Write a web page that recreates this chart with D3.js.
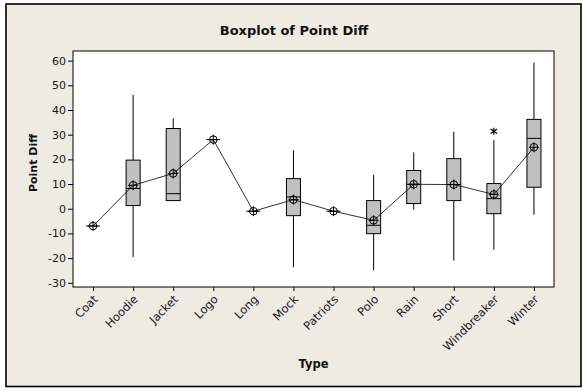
<!DOCTYPE html>
<html>
<head>
<meta charset="utf-8">
<script src="https://cdn.jsdelivr.net/npm/d3@7"></script>
<style>
  html, body { margin: 0; padding: 0; background: #ffffff; }
  svg { display: block; }
</style>
</head>
<body>
<script>
// ---- Data ----
const categories = ["Coat","Hoodie","Jacket","Logo","Long","Mock","Patriots","Polo","Rain","Short","Windbreaker","Winter"];
const means       = [-7,   9.5, 14.3, 28, -1,   3.7, -1,  -4.7,  9.9,  9.8,   5.8, 24.9];
const whiskerLow  = [-7, -19.6,  3.3, 28, -1, -23.7, -1, -25,   -0.4, -21,  -16.6, -2.4];
const q1          = [-7,   1.3,  3.3, 28, -1,  -2.8, -1, -10.1,  2.1,  3.3,  -2,    8.7];
const medians     = [-7,   8.2,  6.1, 28, -1,   4.8, -1,  -6.7,  9.9,  9.8,   4.1, 28.5];
const q3          = [-7,  19.7, 32.5, 28, -1,  12.2, -1,   3.3, 15.5, 20.3,  10.2, 36.2];
const whiskerHigh = [-7,  46.1, 36.6, 28, -1,  23.7, -1,  13.8, 22.8, 31.2,  27.8, 59.2];
const outlierCats = ["Windbreaker"];
const outlierVals = [31.4];
const yTicks = [-30,-20,-10,0,10,20,30,40,50,60];
const titleText = "Boxplot of Point Diff";
const xTitle = "Type";
const yTitle = "Point Diff";

// ---- Layout ----
const W = 587, H = 392;
const plot = { left: 73, right: 554, top: 51, bottom: 287 };
const font = "'DejaVu Sans', Verdana, sans-serif";

const svg = d3.select("body").append("svg").attr("width", W).attr("height", H);

svg.append("rect").attr("x", 6).attr("y", 4).attr("width", 575).attr("height", 382.5)
  .attr("fill", "#eeebe2").attr("stroke", "#000").attr("stroke-width", 1.6);

const x = d3.scalePoint().domain(categories).range([plot.left, plot.right]).padding(0.5);
const y = d3.scaleLinear().domain([-31.7, 63.9]).range([plot.bottom, plot.top]);

// plot area
svg.append("rect").attr("x", plot.left).attr("y", plot.top)
  .attr("width", plot.right - plot.left).attr("height", plot.bottom - plot.top)
  .attr("fill", "#ffffff").attr("stroke", "#000").attr("stroke-width", 1);

// axes
const yAxis = svg.append("g").attr("transform", `translate(${plot.left},0)`)
  .call(d3.axisLeft(y).tickValues(yTicks).tickSize(5).tickPadding(2).tickFormat(d => String(d)));
yAxis.select(".domain").remove();
yAxis.selectAll("text").attr("font-family", font).attr("font-size", 11).attr("fill", "#151525");

const xAxis = svg.append("g").attr("transform", `translate(0,${plot.bottom})`)
  .call(d3.axisBottom(x).tickSize(4).tickFormat(d => d));
xAxis.select(".domain").remove();
xAxis.selectAll("text")
  .attr("font-family", font).attr("font-size", 11.5).attr("fill", "#151525")
  .attr("text-anchor", "end")
  .attr("dy", null)
  .attr("y", 0)
  .attr("transform", "translate(5,13) rotate(-45)");

// boxes
const data = categories.map((c, i) => ({
  cat: c, mean: means[i], lo: whiskerLow[i], q1: q1[i], med: medians[i], q3: q3[i], hi: whiskerHigh[i]
}));
const bw = 14;
const g = svg.append("g");
const box = g.selectAll("g.box").data(data).enter().append("g").attr("class", "box");

box.append("line")
  .attr("x1", d => x(d.cat)).attr("x2", d => x(d.cat))
  .attr("y1", d => y(d.q3)).attr("y2", d => y(d.hi))
  .attr("stroke", "#000").attr("stroke-width", 1);
box.append("line")
  .attr("x1", d => x(d.cat)).attr("x2", d => x(d.cat))
  .attr("y1", d => y(d.q1)).attr("y2", d => y(d.lo))
  .attr("stroke", "#000").attr("stroke-width", 1);
box.append("rect")
  .attr("x", d => x(d.cat) - bw / 2).attr("width", bw)
  .attr("y", d => y(d.q3)).attr("height", d => y(d.q1) - y(d.q3))
  .attr("fill", "#c0c0c0").attr("stroke", "#000").attr("stroke-width", 1);
box.append("line")
  .attr("x1", d => x(d.cat) - bw / 2).attr("x2", d => x(d.cat) + bw / 2)
  .attr("y1", d => y(d.med)).attr("y2", d => y(d.med))
  .attr("stroke", "#000").attr("stroke-width", 1);

// mean connect line
svg.append("path").datum(data)
  .attr("d", d3.line().x(d => x(d.cat)).y(d => y(d.mean)))
  .attr("fill", "none").attr("stroke", "#000").attr("stroke-width", 0.8);

// mean symbols
const ms = svg.append("g").selectAll("g").data(data).enter().append("g")
  .attr("transform", d => `translate(${x(d.cat)},${y(d.mean)})`);
ms.append("circle").attr("r", 3.8).attr("fill", "none").attr("stroke", "#000").attr("stroke-width", 1);
ms.append("line").attr("x1", -5).attr("x2", 5).attr("y1", 0).attr("y2", 0).attr("stroke", "#000");
ms.append("line").attr("x1", 0).attr("x2", 0).attr("y1", -5).attr("y2", 5).attr("stroke", "#000");

// outliers (asterisk)
const outs = outlierCats.map((c, i) => ({ cat: c, v: outlierVals[i] }));
const og = svg.append("g").selectAll("g").data(outs).enter().append("g")
  .attr("transform", d => `translate(${x(d.cat)},${y(d.v)})`);
og.append("line").attr("x1", 0).attr("x2", 0).attr("y1", -3.5).attr("y2", 3.5).attr("stroke", "#000").attr("stroke-width", 1.2);
og.append("line").attr("x1", -3.2).attr("x2", 3.2).attr("y1", -2.2).attr("y2", 2.2).attr("stroke", "#000").attr("stroke-width", 1.2);
og.append("line").attr("x1", -3.2).attr("x2", 3.2).attr("y1", 2.2).attr("y2", -2.2).attr("stroke", "#000").attr("stroke-width", 1.2);

// titles
svg.append("text").attr("x", 294).attr("y", 35).attr("text-anchor", "middle")
  .attr("font-family", font).attr("font-weight", "bold").attr("font-size", 13).attr("fill", "#111")
  .text(titleText);
svg.append("text").attr("x", (plot.left + plot.right) / 2).attr("y", 368).attr("text-anchor", "middle")
  .attr("font-family", font).attr("font-weight", "bold").attr("font-size", 11.5).attr("fill", "#111")
  .text(xTitle);
svg.append("text").attr("transform", "translate(37,163) rotate(-90)").attr("text-anchor", "middle")
  .attr("font-family", font).attr("font-weight", "bold").attr("font-size", 11).attr("fill", "#111")
  .text(yTitle);
</script>
</body>
</html>
